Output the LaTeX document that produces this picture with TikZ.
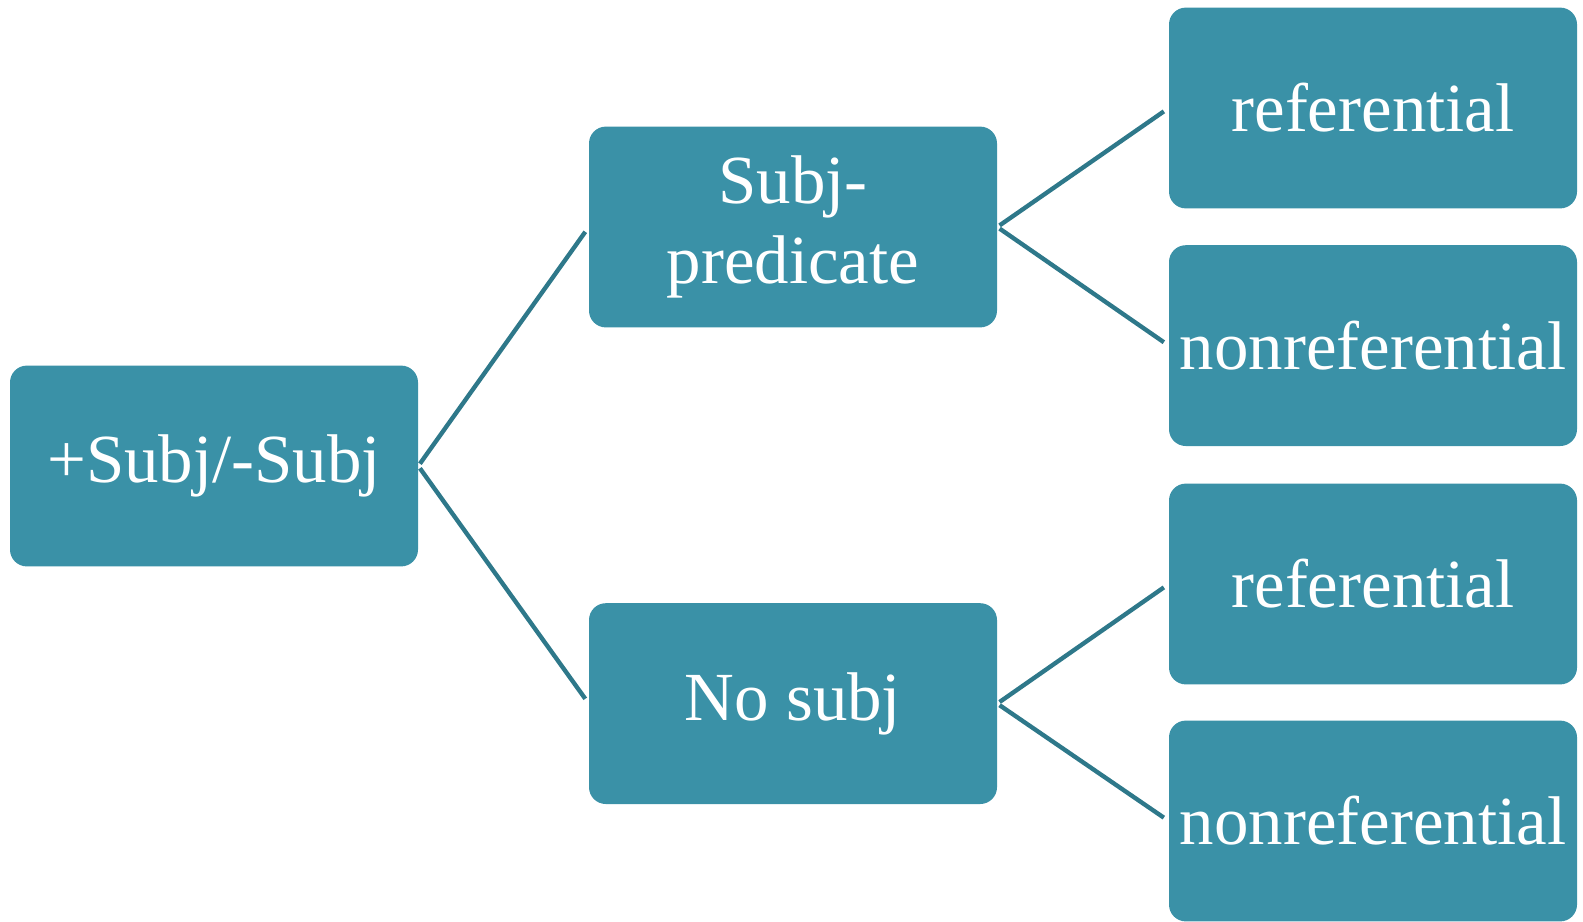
\documentclass[tikz,border=0pt]{standalone}
\usepackage{fontspec}
\setmainfont{Liberation Serif}
\usepackage{xcolor}
\definecolor{boxTeal}{RGB}{58, 145, 167}
\definecolor{lineTeal}{RGB}{46, 120, 138}

\begin{document}
\begin{tikzpicture}[
    box/.style={fill=boxTeal, rounded corners=0.42cm, minimum width=10.2cm, minimum height=5.02cm,
      text=white, align=center, inner sep=0pt, font=\fontsize{49}{57}\selectfont},
    link/.style={draw=lineTeal, line width=3.1pt, shorten <=2pt, shorten >=4.2pt}]
        \useasboundingbox (0,0) rectangle (39.575,-23.025);
        \node[box] (root) at (5.35,-11.65) {+Subj/-Subj};
        \node[box] (sp) at (19.825,-5.675) {Subj-\\predicate};
        \node[box] (ns) at (19.825,-17.59) {No subj};
        \node[box] (spref) at (34.325,-2.7) {referential};
        \node[box] (spnon) at (34.325,-8.64) {nonreferential};
        \node[box] (nsref) at (34.325,-14.6) {referential};
        \node[box] (nsnon) at (34.325,-20.525) {nonreferential};

        \draw[link] (root.east) -- (sp.west);
        \draw[link] (root.east) -- (ns.west);
        \draw[link] (sp.east) -- (spref.west);
        \draw[link] (sp.east) -- (spnon.west);
        \draw[link] (ns.east) -- (nsref.west);
        \draw[link] (ns.east) -- (nsnon.west);
      \end{tikzpicture}
\end{document}
